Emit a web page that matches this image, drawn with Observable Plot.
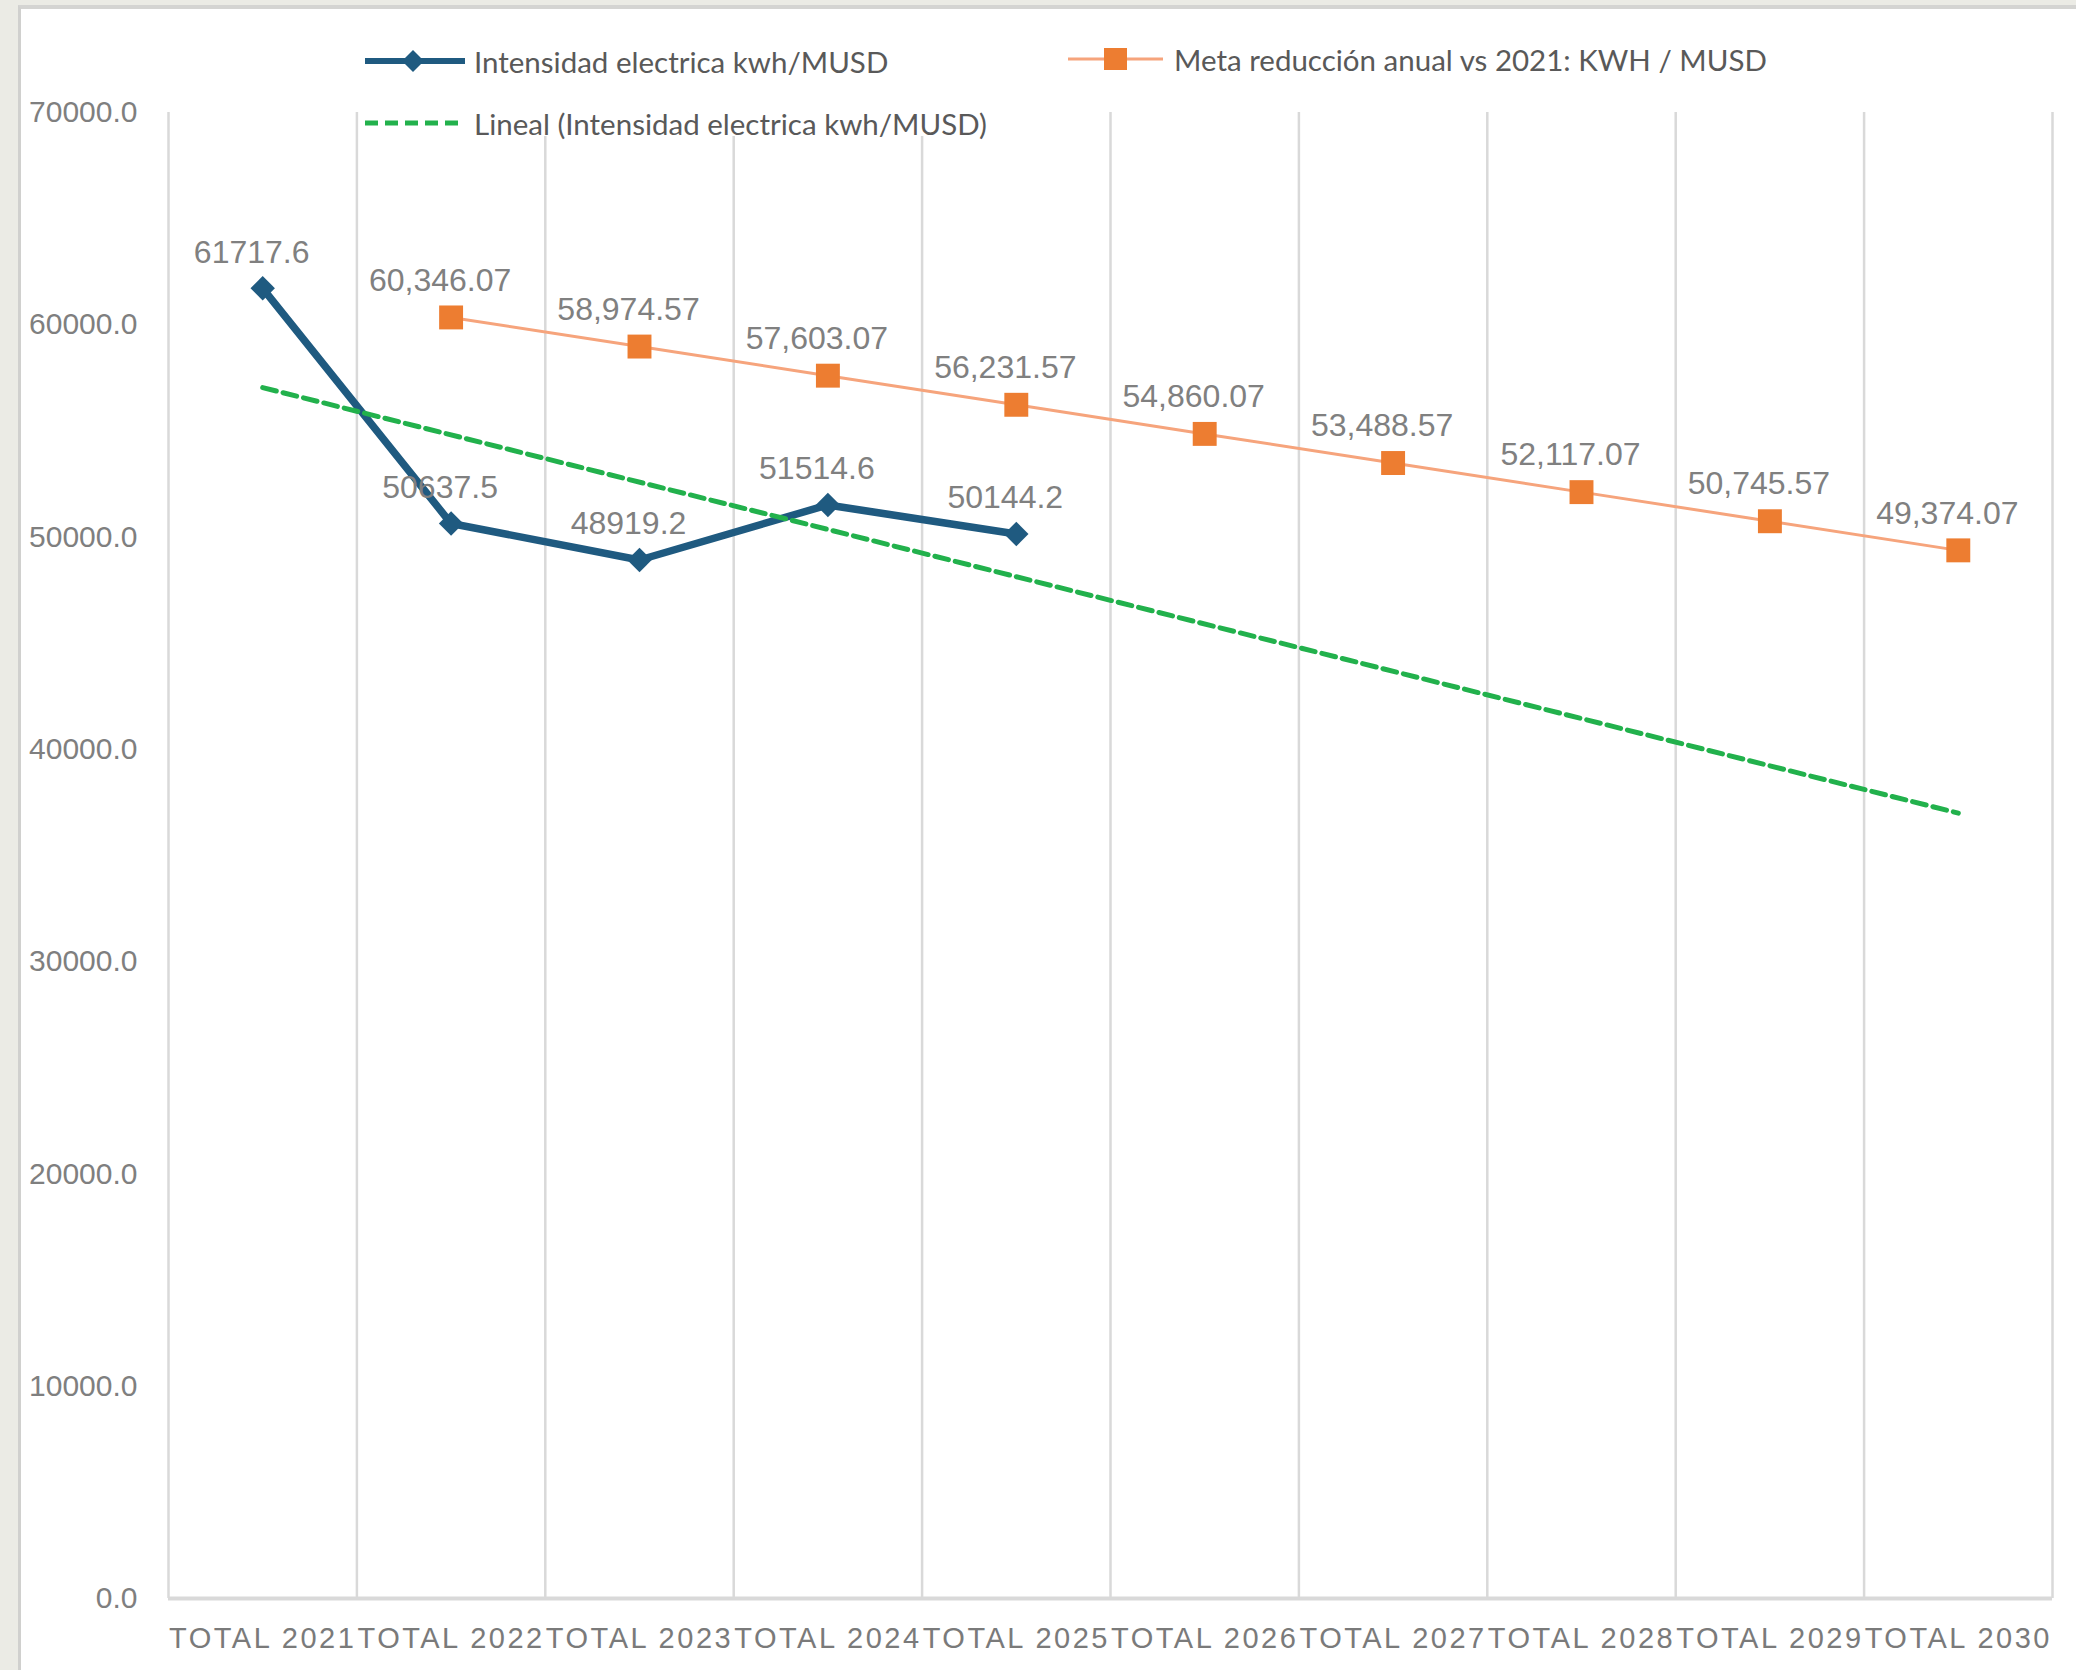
<!DOCTYPE html>
<html><head><meta charset="utf-8">
<script src="https://cdn.jsdelivr.net/npm/d3@7"></script>
<script src="https://cdn.jsdelivr.net/npm/@observablehq/plot@0.6"></script>
<style>
html,body{margin:0;padding:0;background:#ebebe5;}
#page{position:relative;width:2076px;height:1670px;overflow:hidden;}
#frame{position:absolute;left:18px;top:5px;right:0;bottom:0;background:#fff;border-left:3px solid #d0d0ce;border-top:4px solid #d4d4d2;}
#chart{position:absolute;left:0;top:0;}
.leg{position:absolute;display:flex;align-items:center;font-family:Lato,'Noto Sans',sans-serif;font-size:29.5px;color:#595959;white-space:nowrap;height:40px;}
.leg svg{display:block;}
#legbox{position:absolute;left:362px;top:108px;width:643px;height:28px;background:#fff;}
</style>
</head><body>
<div id="page"><div id="frame"></div><div id="chart"></div><div id="legbox"></div><div id="legend"></div></div>
<script>
// ---- data ----
const categories = ["TOTAL 2021","TOTAL 2022","TOTAL 2023","TOTAL 2024","TOTAL 2025","TOTAL 2026","TOTAL 2027","TOTAL 2028","TOTAL 2029","TOTAL 2030"];
const intensidadYears = ["TOTAL 2021","TOTAL 2022","TOTAL 2023","TOTAL 2024","TOTAL 2025"];
const intensidad = [61717.6, 50637.5, 48919.2, 51514.6, 50144.2];
const metaYears = ["TOTAL 2022","TOTAL 2023","TOTAL 2024","TOTAL 2025","TOTAL 2026","TOTAL 2027","TOTAL 2028","TOTAL 2029","TOTAL 2030"];
const meta = [60346.07, 58974.57, 57603.07, 56231.57, 54860.07, 53488.57, 52117.07, 50745.57, 49374.07];
const yTicks = [0, 10000, 20000, 30000, 40000, 50000, 60000, 70000];
const legendLabels = ["Intensidad electrica kwh/MUSD", "Meta reducción anual vs 2021: KWH / MUSD", "Lineal (Intensidad electrica kwh/MUSD)"];

const colBlue = "#1f5a80", colOrangeLine = "#f6a47c", colOrange = "#ed7d31", colGreen = "#22b14c";
const fmt1 = d3.format(".1f"), fmt2 = d3.format(",.2f");
const idx = c => categories.indexOf(c);

const intData = intensidad.map((v, i) => ({cat: intensidadYears[i], v}));
const metaData = meta.map((v, i) => ({cat: metaYears[i], v}));

// linear trendline (least squares over the Intensidad series), extended to the last category
const xs = intData.map(d => idx(d.cat)), ys = intData.map(d => d.v);
const mx = d3.mean(xs), my = d3.mean(ys);
const slope = d3.sum(xs, (x, i) => (x - mx) * (ys[i] - my)) / d3.sum(xs, x => (x - mx) ** 2);
const icpt = my - slope * mx;
const trend = [categories[0], categories[categories.length - 1]].map(c => ({cat: c, v: icpt + slope * idx(c)}));

const plot = Plot.plot({
  width: 2076, height: 1670,
  marginLeft: 168, marginRight: 24, marginTop: 112, marginBottom: 72,
  x: {type: "linear", domain: [-0.5, categories.length - 0.5], axis: null},
  y: {domain: [0, 70000], axis: null},
  style: {background: "transparent", overflow: "visible", fontFamily: "'Liberation Sans', Arial, sans-serif"},
  marks: [
    Plot.ruleX(d3.range(categories.length + 1), {x: d => d - 0.5, y1: 0, y2: 70000, stroke: "#d9d9d9", strokeWidth: 2.5}),
    Plot.ruleY([0], {stroke: "#d9d9d9", strokeWidth: 4}),
    Plot.text(yTicks, {y: d => d, text: d => fmt1(d), frameAnchor: "left", textAnchor: "end", dx: -31, fontSize: 30, fill: "#7f7f7f"}),
    Plot.text(categories, {x: d => idx(d), text: d => d, frameAnchor: "bottom", lineAnchor: "top", dy: 29, fontSize: 29, fill: "#7a7a7a"}),
    Plot.line(metaData, {x: d => idx(d.cat), y: "v", stroke: colOrangeLine, strokeWidth: 3}),
    Plot.dot(metaData, {x: d => idx(d.cat), y: "v", symbol: "square", r: 13.5, fill: colOrange}),
    Plot.line(intData, {x: d => idx(d.cat), y: "v", stroke: colBlue, strokeWidth: 7.5, strokeLinejoin: "round"}),
    Plot.dot(intData, {x: d => idx(d.cat), y: "v", symbol: "diamond2", r: 11, fill: colBlue}),
    Plot.line(trend, {x: d => idx(d.cat), y: "v", stroke: colGreen, strokeWidth: 5, strokeDasharray: "14,7"}),
    Plot.text(intData, {x: d => idx(d.cat), y: "v", text: d => fmt1(d.v), dx: -11, dy: -36, fontSize: 32, fill: "#808080"}),
    Plot.text(metaData, {x: d => idx(d.cat), y: "v", text: d => fmt2(d.v), dx: -11, dy: -37, fontSize: 32, fill: "#808080"})
  ]
});
d3.select(plot).selectAll("text").filter(function () { return this.textContent.startsWith("TOTAL"); }).attr("letter-spacing", "2.5px");
document.getElementById("chart").appendChild(plot);

// ---- legend ----
const leg = document.getElementById("legend");
function entry(left, cy, sample, label, gap) {
  const d = document.createElement("div");
  d.className = "leg";
  d.style.left = left + "px";
  d.style.top = (cy - 20) + "px";
  d.innerHTML = sample + `<span style="margin-left:${gap}px">${label}</span>`;
  leg.appendChild(d);
}
entry(365, 61, `<svg width="100" height="30"><line x1="0" x2="100" y1="15" y2="15" stroke="${colBlue}" stroke-width="6"/><polygon points="48,4 59,15 48,26 37,15" fill="${colBlue}"/></svg>`, legendLabels[0], 9);
entry(1068, 59, `<svg width="95" height="30"><line x1="0" x2="95" y1="15" y2="15" stroke="${colOrangeLine}" stroke-width="3"/><rect x="36" y="4" width="23" height="22" fill="${colOrange}"/></svg>`, legendLabels[1], 11);
entry(365, 123, `<svg width="100" height="30"><line x1="0" x2="100" y1="15" y2="15" stroke="${colGreen}" stroke-width="5" stroke-dasharray="13,7"/></svg>`, legendLabels[2], 9);
</script>
</body></html>
